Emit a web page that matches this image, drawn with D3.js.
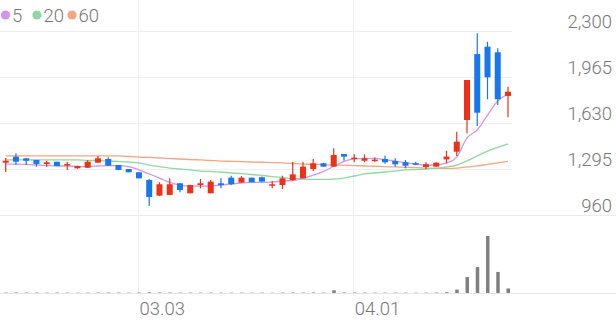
<!DOCTYPE html>
<html>
<head>
<meta charset="utf-8">
<title>Candle chart</title>
<script src="https://d3js.org/d3.v7.min.js"></script>
<style>
  body { margin: 0; background: #fff; }
  svg { display: block; font-family: Roboto, sans-serif; }
  .lbl { fill: #777; font-size: 18.5px; font-weight: 300; }
</style>
</head>
<body>
<script>
// trading days
var dates = ["02.12","02.13","02.14","02.17","02.18","02.19","02.20","02.21","02.24","02.25",
  "02.26","02.27","02.28","03.03","03.04","03.05","03.06","03.07","03.10","03.11",
  "03.12","03.13","03.14","03.17","03.18","03.19","03.20","03.21","03.24","03.25",
  "03.26","03.27","03.28","03.31","04.01","04.02","04.03","04.04","04.07","04.08",
  "04.09","04.10","04.11","04.14","04.15","04.16","04.17","04.18","04.21","04.22"];

var open  = [1341,1385,1373,1361,1331,1348,1322,1300,1304,1341,1368,1324,1295,1271,1215,1101,1106,1191,1118,1178,
             1118,1191,1232,1196,1232,1235,1174,1178,1215,1227,1295,1337,1312,1404,1368,1355,1353,1368,1353,1344,
             1337,1310,1312,1365,1421,1652,2132,2186,2145,1827];
var high  = [1375,1409,1373,1361,1355,1348,1348,1320,1361,1390,1380,1324,1295,1271,1222,1198,1227,1193,1180,1222,
             1215,1227,1246,1244,1232,1240,1208,1246,1348,1348,1368,1340,1446,1404,1402,1402,1380,1392,1373,1361,
             1348,1344,1344,1428,1567,1943,2283,2222,2174,1894];
var low   = [1273,1324,1324,1312,1312,1317,1288,1297,1304,1341,1319,1288,1271,1227,1026,1098,1106,1125,1118,1154,
             1118,1154,1178,1196,1198,1203,1154,1149,1208,1227,1281,1312,1312,1355,1344,1344,1348,1334,1312,1300,
             1322,1295,1312,1336,1390,1555,1608,1803,1761,1671];
var close = [1355,1348,1355,1331,1344,1317,1331,1317,1348,1373,1319,1288,1271,1227,1091,1184,1184,1142,1178,1191,
             1203,1178,1184,1232,1198,1203,1184,1227,1256,1312,1337,1312,1397,1385,1378,1373,1363,1344,1329,1319,
             1329,1329,1341,1385,1494,1943,1705,1963,1803,1858];
var volume = [7000,9000,7000,8000,6000,7000,6000,5000,7000,8000,8000,7000,6000,8000,12000,9000,8000,7000,7000,6000,
              7000,6000,6000,6000,5000,6000,5000,6000,9000,8000,9000,7000,48000,9000,8000,7000,6000,6000,6000,6000,
              5000,6000,8000,14000,60000,280000,455000,1000000,370000,80000];

var ma5  = [1331,1331,1328,1324,1320,1317,1317,1313,1313,1317,1320,1320,1313,1288,1259,1229,1197,1178,1171,1171,
            1171,1178,1186,1193,1197,1197,1200,1208,1211,1226,1251,1277,1313,1350,1368,1373,1371,1364,1353,1342,
            1331,1324,1324,1339,1382,1521,1579,1688,1790,1841];
var ma20 = [1361,1361,1361,1361,1361,1361,1361,1361,1357,1357,1353,1350,1346,1339,1324,1313,1302,1295,1288,1280,
            1277,1273,1266,1262,1255,1248,1240,1233,1226,1222,1219,1219,1222,1229,1244,1259,1266,1273,1280,1288,
            1291,1295,1302,1310,1324,1355,1390,1425,1452,1478];
var ma60 = [1390,1390,1390,1390,1390,1390,1390,1390,1390,1390,1390,1390,1386,1382,1379,1375,1371,1368,1364,1361,
            1357,1353,1351,1349,1346,1344,1342,1339,1335,1331,1329,1327,1324,1322,1320,1317,1315,1312,1310,1307,
            1305,1302,1300,1300,1302,1310,1317,1328,1339,1350];

var priceTicks = [960, 1295, 1630, 1965, 2300];
var dateTicks = ["03.03", "04.01"];
var maKeys = ["5", "20", "60"];
var maColors = ["#d394ef", "#8fd8a2", "#f6a580"];

var W = 616, H = 321;
var upColor = "#ee3116", downColor = "#1778ee";

var svg = d3.select("body").append("svg")
    .attr("width", W)
    .attr("height", H);

var x = d3.scalePoint().domain(dates).range([5.7, 508]);
var y = d3.scaleLinear().domain([960, 2300]).range([215, 31]);
var yv = d3.scaleLinear().domain([0, 1000000]).range([293, 236]);

// grid
svg.append("g").selectAll("line")
    .data(priceTicks.slice(1))
  .enter().append("line")
    .attr("x1", 0).attr("x2", 512)
    .attr("y1", function(d) { return Math.round(y(d)) + 0.5; })
    .attr("y2", function(d) { return Math.round(y(d)) + 0.5; })
    .attr("stroke", "#efefef");

svg.append("line")
    .attr("x1", 0).attr("x2", W)
    .attr("y1", Math.round(y(960)) + 0.5).attr("y2", Math.round(y(960)) + 0.5)
    .attr("stroke", "#ebebeb");

svg.append("g").selectAll("line")
    .data(dateTicks)
  .enter().append("line")
    .attr("x1", function(d) { return Math.round(x(d)) - 0.5; })
    .attr("x2", function(d) { return Math.round(x(d)) - 0.5; })
    .attr("y1", 0).attr("y2", 293)
    .attr("stroke", "#efefef");

// price labels
svg.append("g").selectAll("text")
    .data(priceTicks)
  .enter().append("text")
    .attr("class", "lbl")
    .attr("x", 612)
    .attr("y", function(d) { return y(d) - 3.5; })
    .attr("text-anchor", "end")
    .text(function(d) { return d3.format(",")(d); });

// date labels
svg.append("g").selectAll("text")
    .data(dateTicks)
  .enter().append("text")
    .attr("class", "lbl")
    .attr("x", function(d) { return x(d) + 0.5; })
    .attr("y", 315)
    .text(function(d) { return d; });

// moving averages
var mas = [ma5, ma20, ma60];
var line = d3.line()
    .x(function(d, i) { return x(dates[i]); })
    .y(function(d) { return y(d); })
    .curve(d3.curveMonotoneX);

svg.append("g").selectAll("path")
    .data(mas.slice().reverse())
  .enter().append("path")
    .attr("d", line)
    .attr("fill", "none")
    .attr("stroke", function(d, i) { return maColors[2 - i]; })
    .attr("stroke-width", 1.3);

// candles
var idx = d3.range(dates.length);
var candle = svg.append("g").selectAll("g")
    .data(idx)
  .enter().append("g")
    .attr("fill", function(i) { return close[i] >= open[i] ? upColor : downColor; })
    .attr("stroke", function(i) { return close[i] >= open[i] ? upColor : downColor; });

candle.append("line")
    .attr("x1", function(i) { return x(dates[i]); })
    .attr("x2", function(i) { return x(dates[i]); })
    .attr("y1", function(i) { return y(high[i]); })
    .attr("y2", function(i) { return y(low[i]); })
    .attr("stroke-width", 1.2);

candle.append("rect")
    .attr("stroke", "none")
    .attr("x", function(i) { return x(dates[i]) - 3; })
    .attr("width", 6)
    .attr("y", function(i) { return y(Math.max(open[i], close[i])); })
    .attr("height", function(i) { return Math.max(1.5, Math.abs(y(open[i]) - y(close[i]))); });

// volume
svg.append("line")
    .attr("x1", 0).attr("x2", W)
    .attr("y1", 293.5).attr("y2", 293.5)
    .attr("stroke", "#e6e6e6");

svg.append("g").selectAll("rect")
    .data(idx)
  .enter().append("rect")
    .attr("x", function(i) { return x(dates[i]) - 1.5; })
    .attr("width", 3.5)
    .attr("y", function(i) { return yv(volume[i]); })
    .attr("height", function(i) { return 293 - yv(volume[i]); })
    .attr("fill", "#808080");

// legend
var lx = [5.5, 37, 72];
var legend = svg.append("g").selectAll("g")
    .data(maKeys)
  .enter().append("g");
legend.append("circle")
    .attr("cx", function(d, i) { return lx[i]; })
    .attr("cy", 15)
    .attr("r", 4.6)
    .attr("fill", function(d, i) { return maColors[i]; });
legend.append("text")
    .attr("class", "lbl")
    .attr("x", function(d, i) { return lx[i] + 6.5; })
    .attr("y", 21.5)
    .text(function(d) { return d; });
</script>
</body>
</html>
